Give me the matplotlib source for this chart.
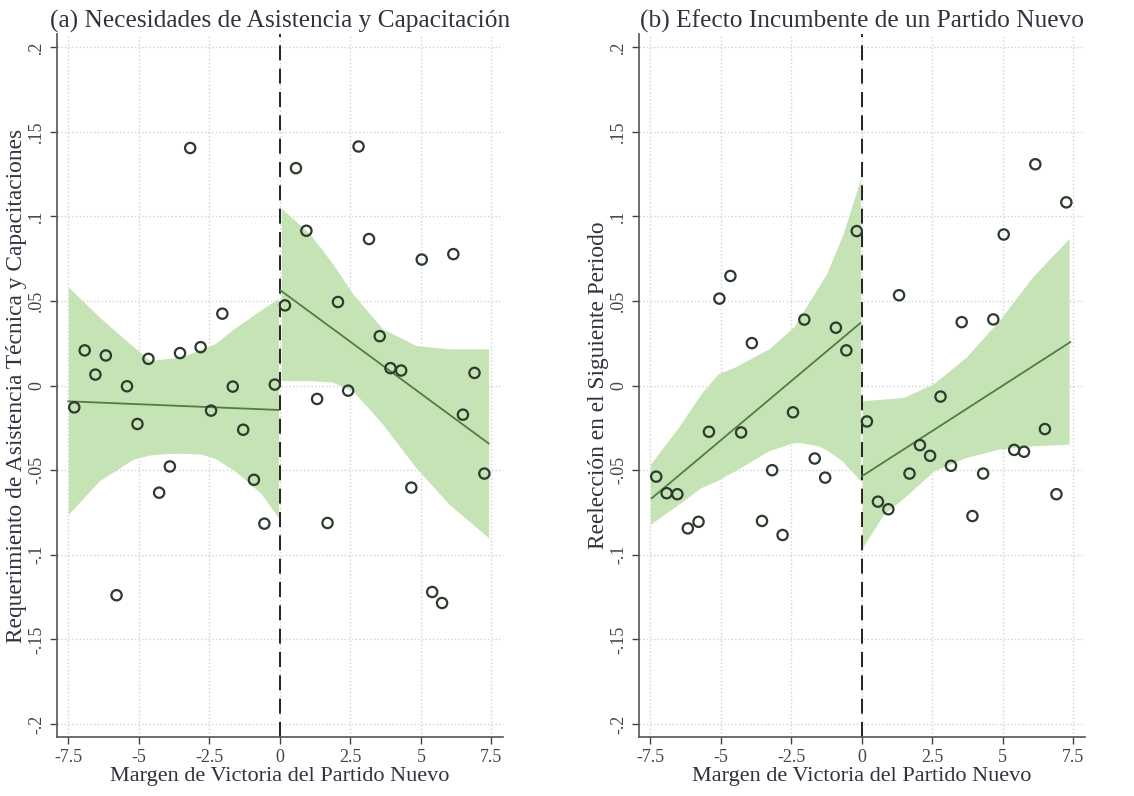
import matplotlib.pyplot as plt
from matplotlib.ticker import FixedLocator

plt.rcParams['font.family'] = ['Liberation Serif', 'DejaVu Serif']

# bin centers (margin of victory)
x_left = [-7.29, -6.92, -6.54, -6.17, -5.79, -5.42, -5.05, -4.66, -4.28, -3.90,
          -3.54, -3.18, -2.81, -2.44, -2.04, -1.67, -1.30, -0.92, -0.55, -0.18]
x_right = [0.18, 0.57, 0.94, 1.32, 1.69, 2.06, 2.42, 2.79, 3.16, 3.54,
           3.92, 4.30, 4.66, 5.03, 5.40, 5.75, 6.15, 6.49, 6.90, 7.25]

# panel (a): bin means
a_left = [-0.0129, 0.0208, 0.0065, 0.0178, -0.1239, -0.0004, -0.0227, 0.0158, -0.0633, -0.0478,
          0.0192, 0.1404, 0.0227, -0.0148, 0.0425, -0.0006, -0.0261, -0.0557, -0.0816, 0.0006]
a_right = [0.0474, 0.1285, 0.0915, -0.0079, -0.0812, 0.0494, -0.0030, 0.1413, 0.0866, 0.0292,
           0.0103, 0.0089, -0.0603, 0.0745, -0.1220, -0.1285, 0.0777, -0.0172, 0.0075, -0.0520]

# panel (b): bin means
b_left = [-0.0538, -0.0636, -0.0642, -0.0844, -0.0805, -0.0273, 0.0514, 0.0648, -0.0277, 0.0251,
          -0.0800, -0.0500, -0.0883, -0.0158, 0.0390, -0.0431, -0.0544, 0.0342, 0.0208, 0.0913]
b_right = [-0.0212, -0.0686, -0.0731, 0.0534, -0.0520, -0.0352, -0.0415, -0.0065, -0.0474, 0.0375,
           -0.0771, -0.0520, 0.0391, 0.0893, -0.0380, -0.0391, 0.1308, -0.0257, -0.0642, 0.1083]

# fitted lines (endpoints)
a_fit_left_x, a_fit_left_y = [-7.5, -0.05], [-0.0093, -0.0144]
a_fit_right_x, a_fit_right_y = [0.02, 7.4], [0.0563, -0.0342]
b_fit_left_x, b_fit_left_y = [-7.45, -0.05], [-0.0666, 0.0370]
b_fit_right_x, b_fit_right_y = [0.02, 7.39], [-0.0534, 0.0257]

# confidence bands
a_ci_lx = [-7.5, -6.4, -5.2, -4.6, -4.0, -3.5, -2.8, -2.3, -1.6, -1.2, -0.65, -0.05]
a_ci_lhi = [0.0583, 0.0405, 0.0230, 0.0148, 0.0160, 0.0168, 0.0215, 0.0247, 0.0340, 0.0385, 0.0450, 0.0514]
a_ci_llo = [-0.0761, -0.0563, -0.0435, -0.0410, -0.0401, -0.0400, -0.0405, -0.0430, -0.0504, -0.0560, -0.0642, -0.0781]
a_ci_rx = [0.05, 1.05, 1.87, 2.58, 3.64, 4.82, 6.0, 7.4]
a_ci_rhi = [0.1048, 0.0899, 0.0721, 0.0543, 0.0336, 0.0237, 0.0217, 0.0217]
a_ci_rlo = [0.0030, 0.0030, 0.0020, -0.0030, -0.0227, -0.0484, -0.0702, -0.0899]

b_ci_lx = [-7.5, -6.5, -5.7, -5.1, -4.8, -4.5, -3.4, -3.3, -2.4, -2.2, -1.55, -1.25, -0.66, -0.6, -0.05]
b_ci_lhi = [-0.0465, -0.0247, -0.0049, 0.0069, 0.0089, 0.0110, 0.0208, 0.0215, 0.0350, 0.0405, 0.0580, 0.0660, 0.0899, 0.0930, 0.1220]
b_ci_llo = [-0.0820, -0.0702, -0.0603, -0.0560, -0.0530, -0.0504, -0.0395, -0.0385, -0.0336, -0.0336, -0.0356, -0.0380, -0.0450, -0.0464, -0.0563]
b_ci_rx = [0.02, 0.77, 1.5, 2.55, 3.7, 4.87, 6.05, 7.35]
b_ci_rhi = [-0.0089, -0.0080, -0.0069, 0.0012, 0.0168, 0.0385, 0.0642, 0.0870]
b_ci_rlo = [-0.0959, -0.0761, -0.0662, -0.0504, -0.0425, -0.0375, -0.0356, -0.0346]

x_ticks = [-7.5, -5, -2.5, 0, 2.5, 5, 7.5]
x_tick_labels = ['-7.5', '-5', '-2.5', '0', '2.5', '5', '7.5']
y_ticks = [-0.2, -0.15, -0.1, -0.05, 0, 0.05, 0.1, 0.15, 0.2]
y_tick_labels = ['-.2', '-.15', '-.1', '-.05', '0', '.05', '.1', '.15', '.2']

FILL = '#c6e3b5'
LINE = '#4f7d46'
MARK = '#2e3a2e'
TEXT = '#2f3240'

fig = plt.figure(figsize=(11.34, 7.96), dpi=100)
ax_a = fig.add_axes([0.0503, 0.0741, 0.393, 0.883])
ax_b = fig.add_axes([0.5635, 0.0741, 0.393, 0.883])

panels = [
    (ax_a, '(a) Necesidades de Asistencia y Capacitación',
     'Requerimiento de Asistencia Técnica y Capacitaciones',
     a_left, a_right, a_fit_left_x, a_fit_left_y, a_fit_right_x, a_fit_right_y,
     a_ci_lx, a_ci_lhi, a_ci_llo, a_ci_rx, a_ci_rhi, a_ci_rlo),
    (ax_b, '(b) Efecto Incumbente de un Partido Nuevo',
     'Reelección en el Siguiente Periodo',
     b_left, b_right, b_fit_left_x, b_fit_left_y, b_fit_right_x, b_fit_right_y,
     b_ci_lx, b_ci_lhi, b_ci_llo, b_ci_rx, b_ci_rhi, b_ci_rlo),
]

for (ax, title, ylabel, yl, yr, flx, fly, frx, fry,
     clx, clhi, cllo, crx, crhi, crlo) in panels:
    # confidence bands
    ax.fill_between(clx, cllo, clhi, color=FILL, lw=0, zorder=1)
    ax.fill_between(crx, crlo, crhi, color=FILL, lw=0, zorder=1)
    # fitted lines
    ax.plot(flx, fly, color=LINE, lw=1.3, zorder=3)
    ax.plot(frx, fry, color=LINE, lw=1.3, zorder=3)
    # bin means
    ax.scatter(x_left, yl, s=55, facecolors='none', edgecolors=MARK, linewidths=1.6, zorder=4)
    ax.scatter(x_right, yr, s=55, facecolors='none', edgecolors=MARK, linewidths=1.6, zorder=4)
    # cutoff
    ax.axvline(0, color='black', ls=(0, (9, 5)), lw=1.2, zorder=2)

    ax.set_xlim(-7.9, 7.9)
    ax.set_ylim(-0.2077, 0.2077)
    ax.xaxis.set_major_locator(FixedLocator(x_ticks))
    ax.set_xticklabels(x_tick_labels)
    ax.yaxis.set_major_locator(FixedLocator(y_ticks))
    ax.set_yticklabels(y_tick_labels, rotation=90, va='center')
    ax.tick_params(axis='both', labelsize=13, colors='#444444', length=5, width=1)
    ax.grid(True, color='#cfd3d6', ls=':', lw=1.0, zorder=0)
    ax.set_axisbelow(True)

    for side in ['top', 'right']:
        ax.spines[side].set_visible(False)
    for side in ['left', 'bottom']:
        ax.spines[side].set_color('#555555')
        ax.spines[side].set_linewidth(1.2)

    ax.set_title(title, fontsize=18.3, color=TEXT, pad=5)
    ax.set_xlabel('Margen de Victoria del Partido Nuevo', fontsize=16, color=TEXT, labelpad=1)
    ax.set_ylabel(ylabel, fontsize=16.8, color=TEXT, labelpad=1)

fig.savefig('out.png', dpi=100)
